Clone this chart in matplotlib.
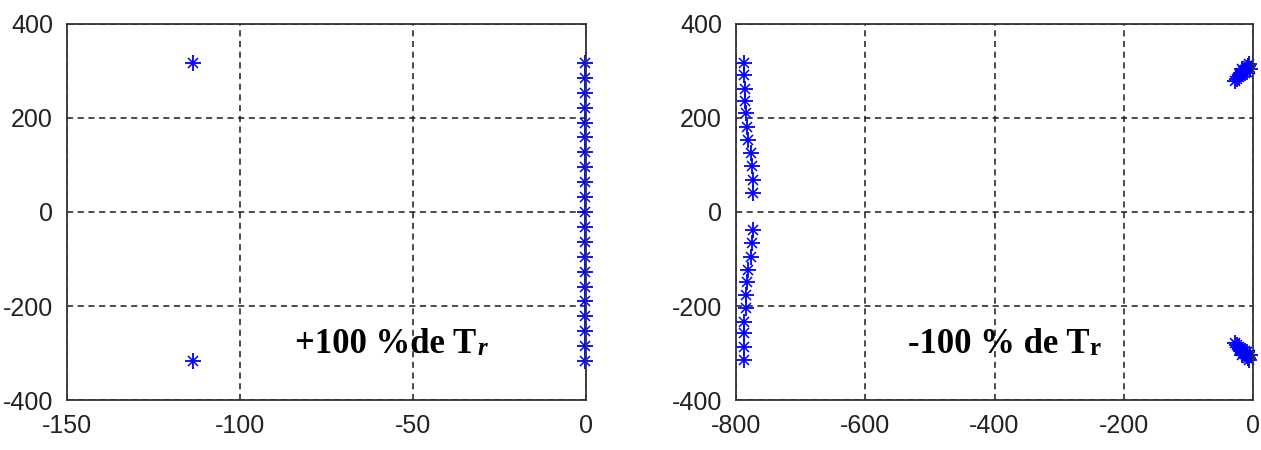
import matplotlib.pyplot as plt

plt.rcParams['axes.unicode_minus'] = False

# left panel : +100 % de Tr
left_re = [-113.5, -113.5] + [-0.3] * 21
left_im = [317, -317, 317, 285, 253, 222, 190, 159, 127, 95, 63, 32, 0,
           -32, -63, -95, -127, -159, -190, -222, -253, -285, -317]

# right panel : -100 % de Tr
right_re = [-788, -788, -786, -786, -785, -783, -782, -777, -776, -774, -774,
            -774, -776, -777, -782, -783, -785, -785, -788, -788, -788, -788,
            -28, -25, -22, -20, -18, -15, -13, -10, -8, -6, -12, -17, -9, -4,
            -28, -25, -22, -20, -18, -15, -13, -10, -8, -6, -12, -17, -9, -4]
right_im = [318, 291, 261, 236, 211, 181, 153, 126, 98, 68, 40,
            -38, -66, -96, -123, -149, -177, -204, -234, -257, -287, -315,
            278, 283, 288, 292, 296, 300, 303, 307, 311, 315, 295, 305, 298, 304,
            -278, -283, -288, -292, -296, -300, -303, -307, -311, -315, -295, -305, -298, -304]

left_xticks = [-150, -100, -50, 0]
right_xticks = [-800, -600, -400, -200, 0]
yticks = [-400, -200, 0, 200, 400]

fig = plt.figure(figsize=(12.61, 4.5), dpi=100)
ax1 = fig.add_axes([67 / 1261., 50 / 450., 519 / 1261., 376 / 450.])
ax2 = fig.add_axes([736 / 1261., 50 / 450., 517 / 1261., 376 / 450.])


def star(ax, xs, ys):
  ax.plot(xs, ys, '+', color='#0000ff', markersize=12, markeredgewidth=1.3, clip_on=False)
  ax.plot(xs, ys, 'x', color='#0000ff', markersize=7, markeredgewidth=1.1, clip_on=False)


star(ax1, left_re, left_im)
star(ax2, right_re, right_im)

for ax, xt in ((ax1, left_xticks), (ax2, right_xticks)):
  ax.set_xlim(xt[0], xt[-1])
  ax.set_ylim(-400, 400)
  ax.set_xticks(xt)
  ax.set_yticks(yticks)
  ax.grid(True, color='0.1', linestyle=(0, (4, 3)), linewidth=1.1)
  ax.set_axisbelow(True)
  ax.tick_params(length=0, labelsize=18, colors='#222222')
  ax.tick_params(axis='y', pad=10)
  ax.tick_params(axis='x', pad=10)
  for item in ax.get_xticklabels() + ax.get_yticklabels():
    item.set_fontfamily('Liberation Sans')
  for s in ax.spines.values():
    s.set_linewidth(1.3)
    s.set_color('#333333')

# annotations
t1 = ax1.text(-84, -300, '+100 %de T', fontsize=25, fontweight='bold',
              family='Liberation Serif', ha='left', va='baseline')
ax1.annotate('r', xy=(1, 0), xycoords=t1, xytext=(1, 4), textcoords='offset points',
             fontsize=18, fontweight='bold', style='italic',
             family='Liberation Serif', ha='left', va='baseline')

t2 = ax2.text(-534, -300, '-100 % de T', fontsize=25, fontweight='bold',
              family='Liberation Serif', ha='left', va='baseline')
ax2.annotate('r', xy=(1, 0), xycoords=t2, xytext=(0, 4), textcoords='offset points',
             fontsize=18, fontweight='bold',
             family='Liberation Serif', ha='left', va='baseline')

plt.savefig('out.png', dpi=100)
